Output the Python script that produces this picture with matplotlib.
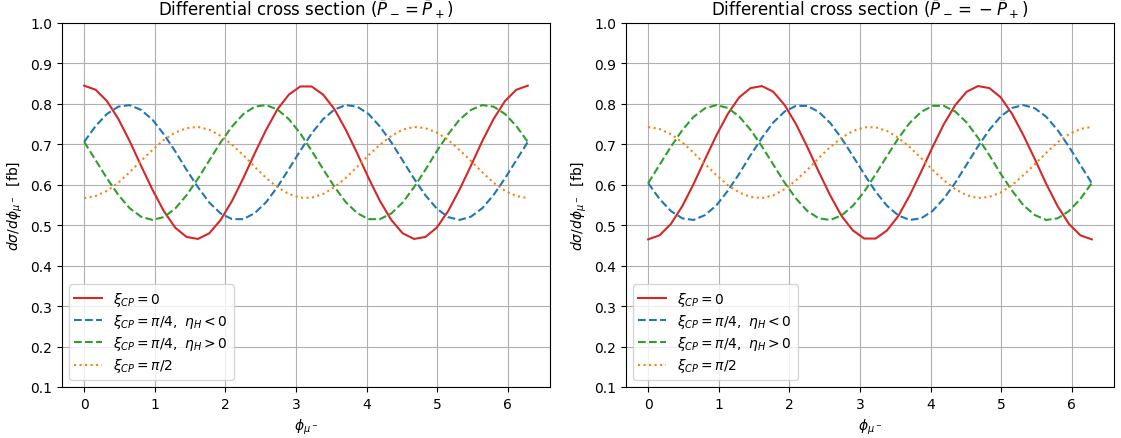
import numpy as np
import matplotlib
matplotlib.use('Agg')
import matplotlib.pyplot as plt

# sample grid in phi_mu- (40 points over 0..2pi)
phi = np.linspace(0, 2 * np.pi, 40)

# P- = P+
red_same = [0.845, 0.835, 0.807, 0.763, 0.708, 0.647, 0.588, 0.535, 0.494, 0.471,
            0.466, 0.480, 0.513, 0.560, 0.617, 0.678, 0.736, 0.787, 0.823, 0.843,
            0.843, 0.823, 0.787, 0.736, 0.678, 0.617, 0.560, 0.513, 0.480, 0.466,
            0.471, 0.494, 0.535, 0.588, 0.647, 0.708, 0.763, 0.807, 0.835, 0.845]
blue_same = [0.706, 0.745, 0.775, 0.793, 0.797, 0.785, 0.761, 0.725, 0.683, 0.637,
             0.594, 0.556, 0.529, 0.515, 0.515, 0.530, 0.557, 0.595, 0.639, 0.684,
             0.727, 0.762, 0.786, 0.797, 0.793, 0.775, 0.744, 0.705, 0.660, 0.615,
             0.574, 0.541, 0.520, 0.513, 0.521, 0.542, 0.575, 0.616, 0.661, 0.706]
green_same = [0.706, 0.661, 0.616, 0.575, 0.542, 0.521, 0.513, 0.520, 0.541, 0.574,
              0.615, 0.660, 0.705, 0.744, 0.775, 0.793, 0.797, 0.786, 0.762, 0.727,
              0.684, 0.639, 0.595, 0.557, 0.530, 0.515, 0.515, 0.529, 0.556, 0.594,
              0.637, 0.683, 0.725, 0.761, 0.785, 0.797, 0.793, 0.775, 0.745, 0.706]
orange_same = [0.567, 0.572, 0.585, 0.605, 0.631, 0.659, 0.686, 0.711, 0.729, 0.740,
               0.743, 0.736, 0.721, 0.699, 0.673, 0.644, 0.617, 0.594, 0.577, 0.568,
               0.568, 0.577, 0.594, 0.617, 0.644, 0.673, 0.699, 0.721, 0.736, 0.743,
               0.740, 0.729, 0.711, 0.686, 0.659, 0.631, 0.605, 0.585, 0.572, 0.567]

# P- = -P+
red_opp = [0.465, 0.475, 0.503, 0.547, 0.602, 0.663, 0.722, 0.775, 0.816, 0.839,
           0.844, 0.830, 0.797, 0.750, 0.693, 0.632, 0.574, 0.523, 0.487, 0.467,
           0.467, 0.487, 0.523, 0.574, 0.632, 0.693, 0.750, 0.797, 0.830, 0.844,
           0.839, 0.816, 0.775, 0.722, 0.663, 0.602, 0.547, 0.503, 0.475, 0.465]
blue_opp = [0.604, 0.565, 0.535, 0.517, 0.513, 0.525, 0.549, 0.585, 0.627, 0.673,
            0.716, 0.754, 0.781, 0.795, 0.795, 0.780, 0.753, 0.715, 0.671, 0.626,
            0.583, 0.548, 0.524, 0.513, 0.517, 0.535, 0.566, 0.605, 0.650, 0.695,
            0.736, 0.769, 0.790, 0.797, 0.789, 0.768, 0.735, 0.694, 0.649, 0.604]
green_opp = [0.604, 0.649, 0.694, 0.735, 0.768, 0.789, 0.797, 0.790, 0.769, 0.736,
             0.695, 0.650, 0.605, 0.566, 0.535, 0.517, 0.513, 0.524, 0.548, 0.583,
             0.626, 0.671, 0.715, 0.753, 0.780, 0.795, 0.795, 0.781, 0.754, 0.716,
             0.673, 0.627, 0.585, 0.549, 0.525, 0.513, 0.517, 0.535, 0.565, 0.604]
orange_opp = [0.743, 0.738, 0.725, 0.705, 0.679, 0.651, 0.624, 0.599, 0.581, 0.570,
              0.567, 0.574, 0.589, 0.611, 0.637, 0.666, 0.693, 0.716, 0.733, 0.742,
              0.742, 0.733, 0.716, 0.693, 0.666, 0.637, 0.611, 0.589, 0.574, 0.567,
              0.570, 0.581, 0.599, 0.624, 0.651, 0.679, 0.705, 0.725, 0.738, 0.743]

labels = [r'$\xi_{CP}=0$',
          r'$\xi_{CP}=\pi/4,\ \eta_H<0$',
          r'$\xi_{CP}=\pi/4,\ \eta_H>0$',
          r'$\xi_{CP}=\pi/2$']
titles = [r'Differential cross section ($\bar{P}_- = \bar{P}_+$)',
          r'Differential cross section ($\bar{P}_- =\:-\:\bar{P}_+$)']

fig = plt.figure(figsize=(11.21, 4.39), dpi=100)
ax1 = fig.add_axes([0.0553, 0.1162, 0.4353, 0.8292])
ax2 = fig.add_axes([0.5584, 0.1162, 0.4353, 0.8292])

panels = [(ax1, red_same, blue_same, green_same, orange_same),
          (ax2, red_opp, blue_opp, green_opp, orange_opp)]

for i, (ax, r, b, g, o) in enumerate(panels):
    ax.plot(phi, r, '-', color='tab:red', label=labels[0])
    ax.plot(phi, b, '--', color='tab:blue', label=labels[1])
    ax.plot(phi, g, '--', color='tab:green', label=labels[2])
    ax.plot(phi, o, ':', color='tab:orange', label=labels[3])
    ax.set_ylim(0.1, 1.0)
    ax.set_yticks(np.arange(0.1, 1.01, 0.1))
    ax.grid(True)
    ax.set_title(titles[i])
    ax.set_xlabel(r'$\phi_{\mu^-}$')
    ax.set_ylabel(r'$d\sigma/d\phi_{\mu^-}$  [fb]')
    ax.legend(loc='lower left', labelspacing=0.3)

plt.savefig('out.png', dpi=100)
